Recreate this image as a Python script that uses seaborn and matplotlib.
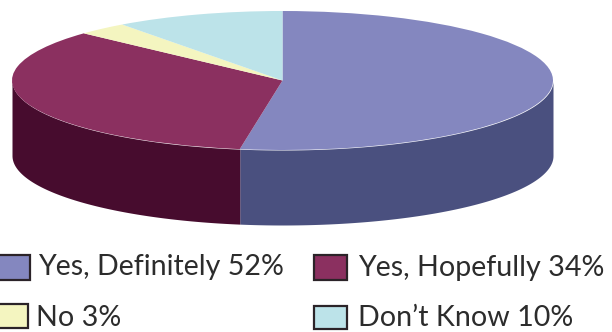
import numpy as np
import matplotlib
matplotlib.use("Agg")
import matplotlib.pyplot as plt
from matplotlib.patches import Rectangle
import seaborn as sns

categories = ["Yes, Definitely", "Yes, Hopefully", "No", "Don\u2019t Know"]
values = [52, 34, 3, 10]
top_colors = ["#8487BF", "#8B3060", "#F4F5C0", "#BCE3E9"]
wall_colors = ["#4A507F", "#470C2E", "#B8B98A", "#8DB0B5"]

sns.set_theme(style="white")
plt.rcParams['font.family'] = ['Lato', 'DejaVu Sans']

W, H = 612, 332
CX, CY, RX, RY, DEPTH = 282.5, 80.5, 270.5, 69.5, 75.0

fig = plt.figure(figsize=(W / 100, H / 100), dpi=100, facecolor="white")
ax = fig.add_axes([0, 0, 1, 1])

# Side wall, front half only
fractions = np.array(values) / np.sum(values)
edges = np.concatenate([[0], np.cumsum(fractions)]) * 2 * np.pi
d = DEPTH / RY
for i, color in enumerate(wall_colors):
    a0 = max(edges[i], np.pi / 2)
    a1 = min(edges[i + 1], 3 * np.pi / 2)
    if a1 <= a0:
        continue
    t = np.linspace(a0, a1, 200)
    ax.fill_between(np.sin(t), np.cos(t), np.cos(t) - d, color=color, lw=0, zorder=1)

# Top face
ax.pie(values, colors=top_colors, startangle=90, counterclock=False, radius=1,
       wedgeprops=dict(edgecolor="none", linewidth=0, zorder=2))

ax.set_aspect("auto")
ax.set_xlim((0 - CX) / RX, (W - CX) / RX)
ax.set_ylim((CY - H) / RY, CY / RY)
ax.axis("off")

# Legend, positioned in pixels
def fx(px):
    return px / W

def fy(py):
    return 1 - py / H

legend_boxes = [(-4, 255, 34, 25), (314, 255, 33, 25), (-4, 304, 32, 24), (314, 306, 33, 23)]
legend_text = [(38, 267), (358, 268), (36, 318), (358, 318)]
for name, val, col, box, pos in zip(categories, values, top_colors, legend_boxes, legend_text):
    x, y, w, h = box
    fig.add_artist(Rectangle((fx(x), fy(y + h)), w / W, h / H, transform=fig.transFigure,
                             facecolor=col, edgecolor="#2B2328", linewidth=1.6))
    fig.text(fx(pos[0]), fy(pos[1]), f"{name} {val}%", fontsize=20.6, color="#2C2C2C",
             ha="left", va="center")

fig.savefig("out.png", dpi=100)
